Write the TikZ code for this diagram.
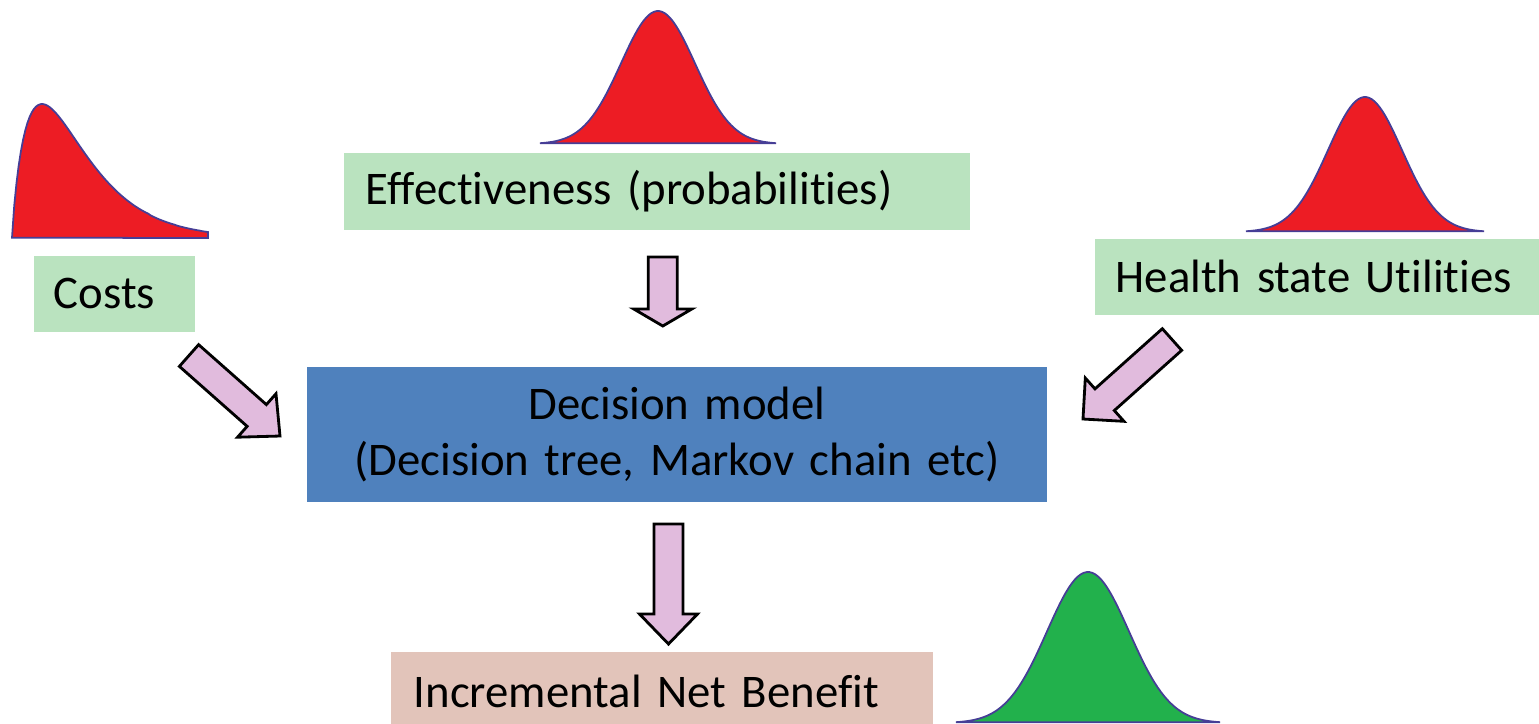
\documentclass[tikz,border=0pt]{standalone}
\usepackage{fontspec}
\setmainfont{Carlito}[Ligatures=NoCommon]
\usetikzlibrary{calc, positioning}

\definecolor{boxgreen}{RGB}{186,227,191}
\definecolor{modelblue}{RGB}{79,129,189}
\definecolor{inbrose}{RGB}{226,196,186}
\definecolor{arrowpink}{RGB}{225,187,221}
\definecolor{curvered}{RGB}{237,28,36}
\definecolor{curvegreen}{RGB}{34,177,76}
\definecolor{curveline}{RGB}{70,62,150}

% block arrow from tail #2 to tip #3, head length #1
\newcommand{\blockarrow}[3][0.3cm]{%
  \coordinate (hb) at ($(#3)!#1!(#2)$);
  \draw[blockarr] ($(#2)!0.145cm!90:(#3)$) -- ($(hb)!0.145cm!90:(#3)$)
    -- ($(hb)!0.29cm!90:(#3)$) -- (#3) -- ($(hb)!0.29cm!-90:(#3)$)
    -- ($(hb)!0.145cm!-90:(#3)$) -- ($(#2)!0.145cm!-90:(#3)$) -- cycle;
}

\begin{document}
\begin{tikzpicture}[x=0.01cm, y=-0.01cm,
    font=\fontsize{13.3}{16}\selectfont,
    inbox/.style={anchor=north west, fill=boxgreen, align=left, inner ysep=0pt},
    blockarr/.style={fill=arrowpink, draw=black, line width=0.8pt, line join=miter},
    dist/.style={draw=curveline, line width=0.5pt}]
  \useasboundingbox (0,0) rectangle (1539,723);

  % Distributions
  \filldraw[dist, fill=curvered] plot[domain=0.01:196, samples=90]
    ({12+\x},{238-134*pow((\x/30)*exp(1-\x/30),0.85)}) -- (208,238) -- cycle;
  \filldraw[dist, fill=curvered] plot[domain=-118:118, samples=90]
    ({658+\x},{144-133*exp(-0.5*(\x/37)*(\x/37))}) -- cycle;
  \filldraw[dist, fill=curvered] plot[domain=-119:119, samples=90]
    ({1365+\x},{232-135*exp(-0.5*(\x/37)*(\x/37))}) -- cycle;
  \filldraw[dist, fill=curvegreen] plot[domain=-132:132, samples=90]
    ({1088+\x},{723-151*exp(-0.5*(\x/41)*(\x/41))}) -- cycle;

  % Inputs
  \node[inbox, minimum height=0.76cm, text width=1.21cm, inner xsep=0.2cm]
    (costs) at (33,255) {Costs};
  \node[inbox, minimum height=0.77cm, text width=5.82cm, inner xsep=0.22cm]
    (effect) at (343,152) {Effectiveness (probabilities)};
  \node[inbox, minimum height=0.76cm, text width=4.18cm, inner xsep=0.21cm]
    (utility) at (1094,238) {Health state Utilities};

  % Model and result
  \node[fill=modelblue, minimum width=7.4cm, minimum height=1.35cm,
        text width=7.2cm, align=center, inner sep=0pt]
    (model) at (677,434.5) {Decision model\\(Decision tree, Markov chain etc)};
  \node[inbox, fill=inbrose, minimum height=0.8cm, text width=4.96cm, inner xsep=0.23cm]
    (inb) at (390,651) {Incremental Net Benefit};

  % Arrows
  \coordinate (e1) at (662.8,257);  \coordinate (e2) at (662.8,326);
  \coordinate (c1) at (189,355.5);  \coordinate (c2) at (280,436);
  \coordinate (u1) at (1172,339.5); \coordinate (u2) at (1083,419);
  \coordinate (m1) at (668.5,524);  \coordinate (m2) at (668.5,644);
  \blockarrow[0.17cm]{e1}{e2}
  \blockarrow[0.31cm]{c1}{c2}
  \blockarrow[0.29cm]{u1}{u2}
  \blockarrow[0.3cm]{m1}{m2}
\end{tikzpicture}
\end{document}
